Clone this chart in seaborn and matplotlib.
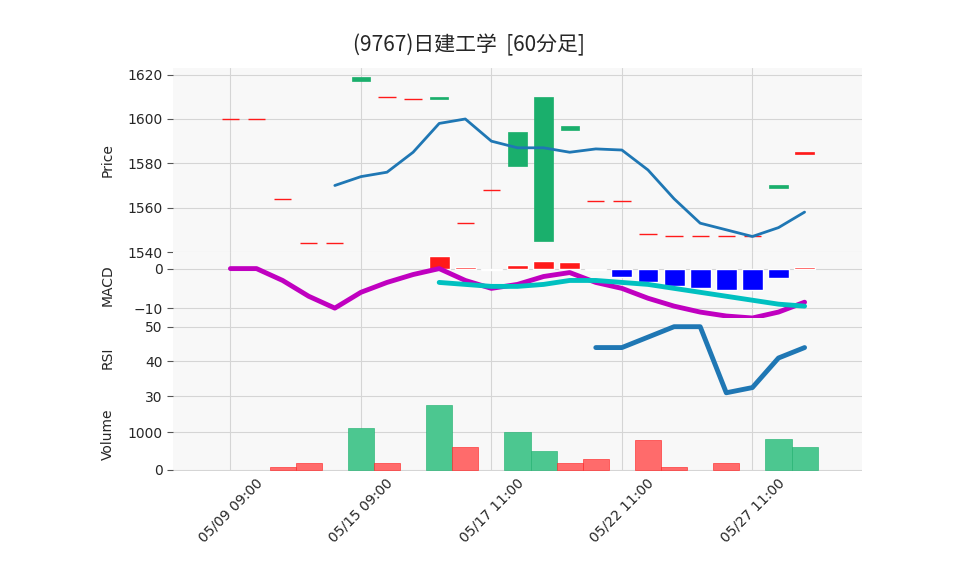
import matplotlib
matplotlib.use("Agg")
import matplotlib.pyplot as plt
import seaborn as sns
import numpy as np

sns.set_style("whitegrid")
plt.rcParams['font.family'] = ['DejaVu Sans', 'Noto Sans CJK JP']

title = "(9767)日建工学  [60分足]"
tick_pos = [0, 5, 10, 15, 20]
tick_labels = ["05/09 09:00", "05/15 09:00", "05/17 11:00", "05/22 11:00", "05/27 11:00"]

opens = [1600, 1600, 1564, 1544, 1544, 1619, 1610, 1609, 1610, 1553, 1568, 1594, 1610, 1597,
         1563, 1563, 1548, 1547, 1547, 1547, 1547, 1570, 1584]
closes = [1600, 1600, 1564, 1544, 1544, 1617, 1610, 1609, 1609, 1553, 1568, 1579, 1545, 1595,
          1563, 1563, 1548, 1547, 1547, 1547, 1547, 1569, 1585]
candle_up = [1, 1, 1, 1, 1, 0, 1, 1, 0, 1, 1, 0, 0, 0, 1, 1, 1, 1, 1, 1, 1, 0, 1]
ma = [None, None, None, None, 1570, 1574, 1576, 1585, 1598, 1600, 1590, 1587, 1587, 1585,
      1586.5, 1586, 1577, 1564, 1553, 1550, 1547, 1551, 1558]

macd = [0, 0, -3, -7, -10, -6, -3.5, -1.5, 0, -3, -5, -4, -2, -1, -3.5, -5, -7.5, -9.5,
        -11, -12, -12.5, -11, -8.5]
signal = [None] * 8 + [-3.5, -4, -4.5, -4.5, -4, -3, -3, -3.5, -4, -5, -6, -7, -8, -9, -9.5]
hist = [None] * 8 + [3.3, 0.3, -0.3, 0.8, 2.0, 1.7, -0.3, -2.0, -3.5, -4.5, -5, -5.5, -5.5, -2.5, 0.5]

rsi = [None] * 14 + [44, 44, 47, 50, 50, 31, 32.5, 41, 44]

volume = [0, 0, 80, 180, 0, 1130, 180, 0, 1730, 600, 0, 1020, 500, 180, 280, 0, 800, 80,
          0, 180, 0, 820, 600]
vol_up = [1, 1, 1, 1, 1, 0, 1, 1, 0, 1, 1, 0, 0, 1, 1, 1, 1, 1, 1, 1, 1, 0, 0]

n = len(opens)
x = np.arange(n)
RED, GREEN = "#ff1a1a", "#1aaf6c"
VRED, VGREEN = "#ff6b6b", "#4cc790"

fig = plt.figure(figsize=(9.58, 5.75), dpi=100)
L, W = 173 / 958, (862 - 173) / 958
def panel(top, bottom):
    return fig.add_axes([L, 1 - bottom / 575, W, (bottom - top) / 575])
ax1 = panel(68, 252)
ax2 = panel(252, 318)
ax3 = panel(318, 398)
ax4 = panel(398, 471)

for ax in (ax1, ax2, ax3, ax4):
    ax.set_facecolor("#f8f8f8")
    ax.grid(True, color="#d5d5d5", linewidth=0.8)
    ax.set_xlim(-2.2, 24.2)
    ax.set_xticks(tick_pos)
    for s in ax.spines.values():
        s.set_visible(False)
    ax.tick_params(axis="y", labelsize=10, length=4, left=True, color="#555")
    ax.tick_params(axis="x", length=0)

# candles
for i in range(n):
    c = RED if candle_up[i] else GREEN
    lo, hi = min(opens[i], closes[i]), max(opens[i], closes[i])
    if hi - lo < 0.5:
        ax1.hlines(lo, i - 0.33, i + 0.33, color=c, linewidth=1)
    else:
        ax1.bar(i, hi - lo, bottom=lo, width=0.7, color=c, edgecolor=c, linewidth=0.5)
sns.lineplot(x=x, y=np.array(ma, dtype=float), ax=ax1, color="#1f77b4", linewidth=2)
ax1.set_ylim(1540, 1623)
ax1.set_yticks([1540, 1560, 1580, 1600, 1620])
ax1.set_ylabel("Price", fontsize=10)

# MACD
h = np.array(hist, dtype=float)
m = ~np.isnan(h)
hc = [RED if v >= 0 else "#0000ff" for v in h[m]]
ax2.bar(x[m], h[m], width=0.8, color=hc)
sns.lineplot(x=x, y=np.array(macd, dtype=float), ax=ax2, color="#c000c0", linewidth=3.5)
sns.lineplot(x=x, y=np.array(signal, dtype=float), ax=ax2, color="#00c0c0", linewidth=3.5)
ax2.set_ylim(-12.5, 4.2)
ax2.set_yticks([-10, 0])
ax2.set_ylabel("MACD", fontsize=10)

# RSI
sns.lineplot(x=x, y=np.array(rsi, dtype=float), ax=ax3, color="#1f77b4", linewidth=3.5)
ax3.set_ylim(29.5, 52.5)
ax3.set_yticks([30, 40, 50])
ax3.set_ylabel("RSI", fontsize=10)

# Volume
vol = np.array(volume, dtype=float)
vm = vol > 0
ax4.bar(x[vm], vol[vm], width=1.0,
        color=[VRED if vol_up[i] else VGREEN for i in x[vm]],
        edgecolor=[RED if vol_up[i] else GREEN for i in x[vm]], linewidth=0.4)
ax4.set_ylim(-30, 1920)
ax4.set_yticks([0, 1000])
ax4.set_ylabel("Volume", fontsize=10)

for ax in (ax1, ax2, ax3):
    ax.set_xticklabels([])
ax4.set_xticklabels(tick_labels, rotation=45, fontsize=10)
for ax in (ax1, ax2, ax3, ax4):
    ax.yaxis.set_label_coords(-0.085, 0.5)

fig.text(0.49, 1 - 45 / 575, title, ha="center", va="center", fontsize=15,
         family=['Noto Sans CJK JP', 'DejaVu Sans'])
fig.savefig("out.png", dpi=100)
